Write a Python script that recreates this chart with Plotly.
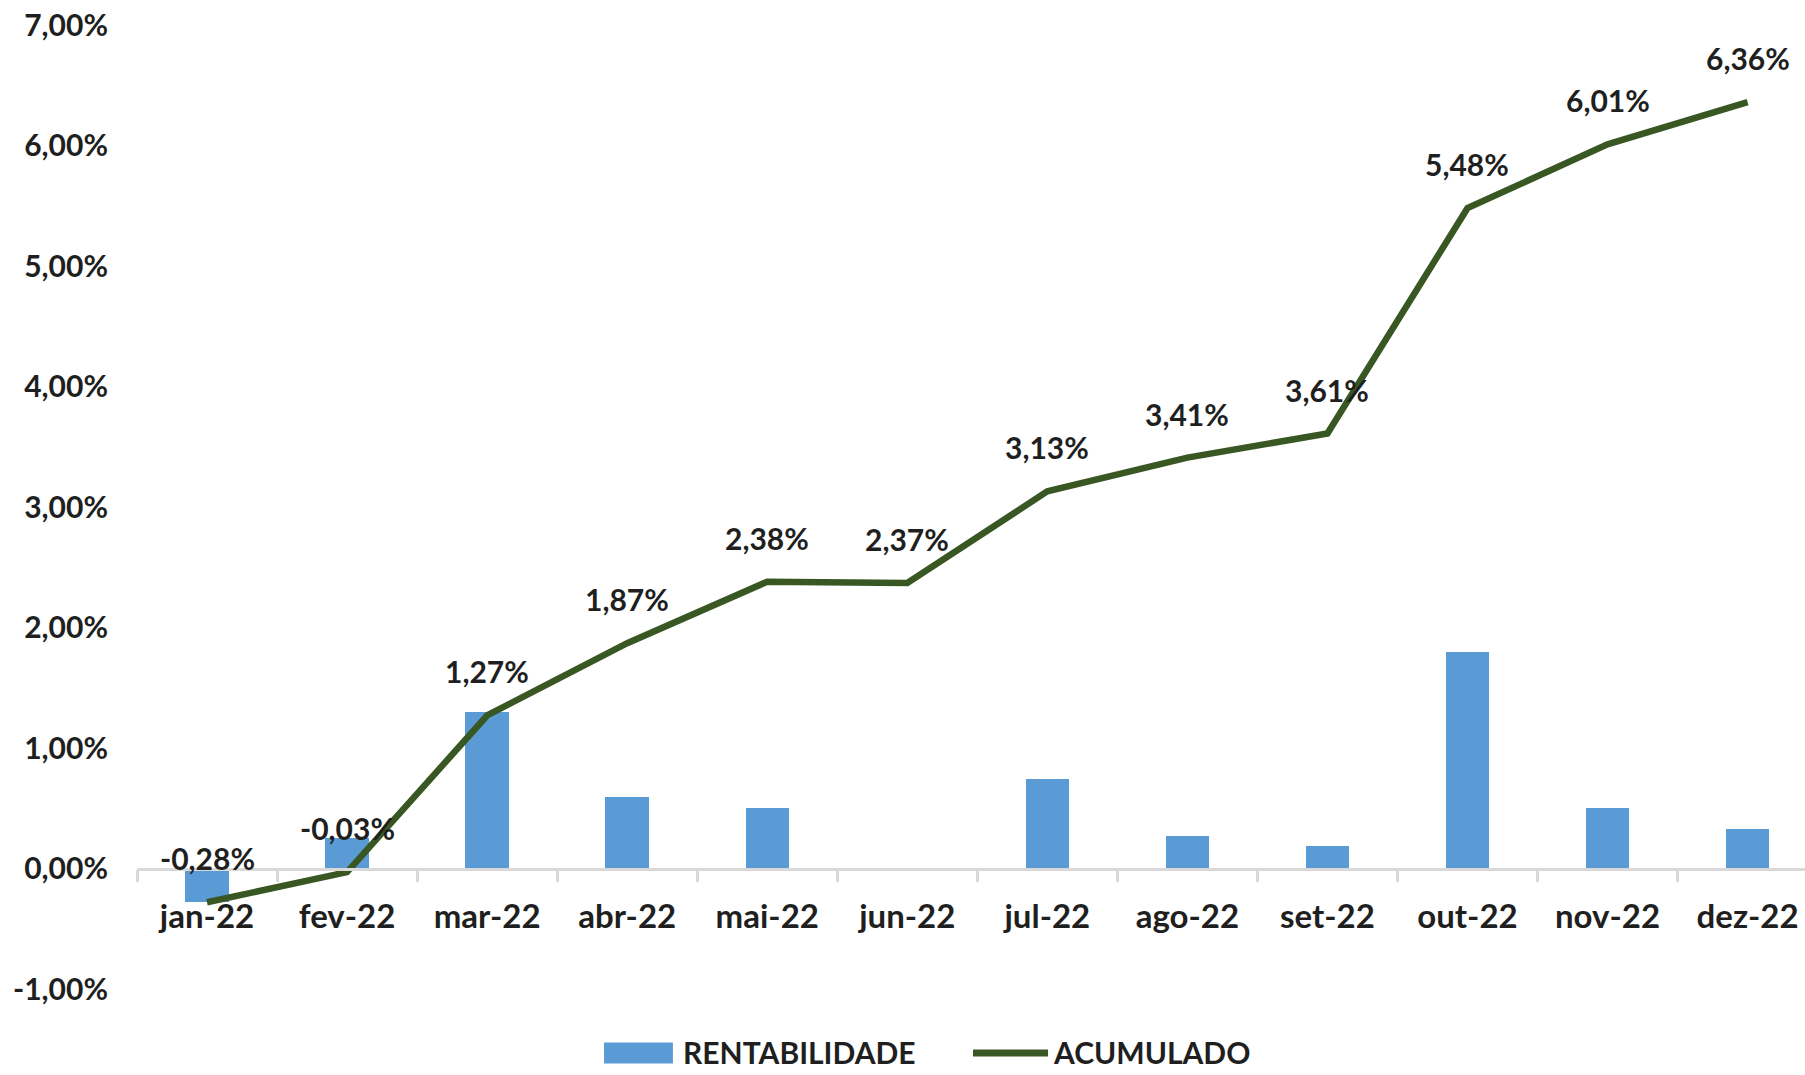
import plotly.graph_objects as go

categories = ["jan-22", "fev-22", "mar-22", "abr-22", "mai-22", "jun-22",
              "jul-22", "ago-22", "set-22", "out-22", "nov-22", "dez-22"]
rentabilidade = [-0.28, 0.25, 1.30, 0.59, 0.50, -0.01, 0.74, 0.27, 0.19, 1.80, 0.50, 0.33]
acumulado = [-0.28, -0.03, 1.27, 1.87, 2.38, 2.37, 3.13, 3.41, 3.61, 5.48, 6.01, 6.36]
y_ticks = [-1, 0, 1, 2, 3, 4, 5, 6, 7]
series_names = ["RENTABILIDADE", "ACUMULADO"]

FONT = "Lato"
TXT = "#1f1f1f"
BAR_COLOR = "#5B9BD5"
LINE_COLOR = "#385723"


def pct(v):
    return f"{v:.2f}%".replace(".", ",")


fig = go.Figure()
fig.add_trace(go.Bar(
    x=categories, y=rentabilidade, name=series_names[0],
    marker=dict(color=BAR_COLOR, line=dict(width=0)), width=0.31,
))
fig.add_trace(go.Scatter(
    x=categories, y=acumulado, name=series_names[1], mode="lines",
    line=dict(color=LINE_COLOR, width=6.5),
))

for c, v in zip(categories, acumulado):
    fig.add_annotation(
        x=c, y=v, text=pct(v), showarrow=False,
        yshift=44, font=dict(family=FONT, size=30, color=TXT, weight="bold"),
    )

# manual legend (below the plot area)
leg_font = dict(family=FONT, size=30, color=TXT, weight="bold")
leg_mid = -0.0664
fig.add_shape(type="rect", xref="paper", yref="paper",
              x0=0.280, x1=0.3213, y0=-0.0773, y1=-0.0555,
              fillcolor=BAR_COLOR, line=dict(width=0))
fig.add_annotation(xref="paper", yref="paper", x=0.3263, y=-0.0866,
                   xanchor="left", yanchor="bottom", text=series_names[0],
                   showarrow=False, font=leg_font)
fig.add_shape(type="line", xref="paper", yref="paper",
              x0=0.5012, x1=0.5462, y0=leg_mid, y1=leg_mid,
              line=dict(color=LINE_COLOR, width=7))
fig.add_annotation(xref="paper", yref="paper", x=0.5482, y=-0.0866,
                   xanchor="left", yanchor="bottom", text=series_names[1],
                   showarrow=False, font=leg_font)

fig.update_layout(
    width=1805, height=1075,
    margin=dict(l=137, r=0, t=25, b=86),
    paper_bgcolor="white", plot_bgcolor="white",
    showlegend=False,
    bargap=0,
)
fig.update_xaxes(
    type="category", range=[-0.5, 11.41], anchor="free", position=0.125,
    showline=True, linecolor="#d9d9d9", linewidth=2.5,
    ticks="outside", tickson="boundaries", ticklen=12, tickcolor="#d9d9d9", tickwidth=2.5,
    tickfont=dict(family=FONT, size=33, color=TXT, weight="bold"),
    ticklabelstandoff=18, showgrid=False, zeroline=False,
)
fig.update_yaxes(
    range=[-1, 7], tickvals=y_ticks, ticktext=[pct(t) for t in y_ticks],
    showgrid=False, zeroline=False, showline=False,
    tickfont=dict(family=FONT, size=30, color=TXT, weight="bold"),
    ticklabelstandoff=28,
)

fig.write_html("out.html", config={"displayModeBar": False},
               post_script="document.body.style.margin='0';")
